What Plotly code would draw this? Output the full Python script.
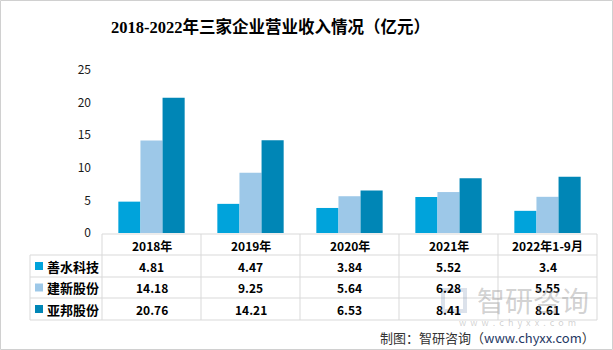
import plotly.graph_objects as go

categories = ["2018年", "2019年", "2020年", "2021年", "2022年1-9月"]
series_names = ["善水科技", "建新股份", "亚邦股份"]
shanshui = [4.81, 4.47, 3.84, 5.52, 3.4]
jianxin = [14.18, 9.25, 5.64, 6.28, 5.55]
yabang = [20.76, 14.21, 6.53, 8.41, 8.61]
y_ticks = [0, 5, 10, 15, 20, 25]
colors = ["#00A3DB", "#9DC8E8", "#0086B6"]

W, H = 613, 350
PX0, PX1, PY0, PY1 = 102, 597, 70, 233  # plot area in pixels


def xp(px):
    return (px - PX0) / (PX1 - PX0)


def yp(py):
    return (PY1 - py) / (PY1 - PY0)


series = [shanshui, jianxin, yabang]
fig = go.Figure()
for name, vals, c in zip(series_names, series, colors):
    fig.add_trace(go.Bar(x=categories, y=vals, name=name, marker=dict(color=c, line=dict(width=0))))

fnt = "Noto Sans CJK SC, sans-serif"
grid = "#D9D9D9"
shapes = []
# table horizontal lines
shapes.append(dict(type="line", xref="paper", yref="paper", x0=xp(102), x1=xp(597), y0=yp(234), y1=yp(234),
                   line=dict(color=grid, width=1)))
for py in [255, 277, 298, 320]:
    shapes.append(dict(type="line", xref="paper", yref="paper", x0=xp(30), x1=xp(597), y0=yp(py), y1=yp(py),
                       line=dict(color=grid, width=1)))
for px in [102, 201, 300, 399, 498, 597]:
    shapes.append(dict(type="line", xref="paper", yref="paper", x0=xp(px), x1=xp(px), y0=yp(234), y1=yp(320),
                       line=dict(color=grid, width=1)))
shapes.append(dict(type="line", xref="paper", yref="paper", x0=xp(30), x1=xp(30), y0=yp(255), y1=yp(320),
                   line=dict(color=grid, width=1)))
# outer border
shapes.append(dict(type="rect", xref="paper", yref="paper", x0=xp(0.5), x1=xp(612.5), y0=yp(0.5), y1=yp(349.5),
                   line=dict(color="#D0D0D0", width=1)))

annotations = []
# title
annotations.append(dict(text="<b>2018-2022年三家企业营业收入情况（亿元）</b>", xref="paper", yref="paper",
                        x=xp(270), y=yp(27), xanchor="center", yanchor="middle", showarrow=False,
                        font=dict(family="Liberation Serif, Noto Sans CJK SC", size=16.5, color="#000000")))
# header
for cat in categories:
    annotations.append(dict(text="<b>%s</b>" % cat, xref="x", yref="paper", x=cat, y=yp(245),
                            xanchor="center", yanchor="middle", showarrow=False,
                            font=dict(family=fnt, size=12, color="#000000")))
row_centers = [266, 287.5, 309]
for name, vals, c, ry in zip(series_names, series, colors, row_centers):
    shapes.append(dict(type="rect", xref="paper", yref="paper", x0=xp(35), x1=xp(43), y0=yp(ry - 4), y1=yp(ry + 4),
                       fillcolor=c, line=dict(width=0)))
    annotations.append(dict(text="<b>%s</b>" % name, xref="paper", yref="paper", x=xp(45), y=yp(ry),
                            xanchor="left", yanchor="middle", showarrow=False,
                            font=dict(family=fnt, size=13, color="#000000")))
    for cat, v in zip(categories, vals):
        annotations.append(dict(text="<b>%s</b>" % v, xref="x", yref="paper", x=cat, y=yp(ry),
                                xanchor="center", yanchor="middle", showarrow=False,
                                font=dict(family=fnt, size=12, color="#000000")))
# watermark
annotations.append(dict(text="智研咨询", xref="paper", yref="paper", x=xp(533), y=yp(300),
                        xanchor="center", yanchor="middle", showarrow=False,
                        font=dict(family=fnt, size=28, color="rgba(140,140,140,0.4)")))
annotations.append(dict(text="w  w  w  .  c  h  y  x  x  .  c  o  m", xref="paper", yref="paper", x=xp(517), y=yp(322),
                        xanchor="center", yanchor="middle", showarrow=False,
                        font=dict(family=fnt, size=9, color="rgba(140,140,140,0.4)")))
shapes.append(dict(type="rect", xref="paper", yref="paper", x0=xp(443), x1=xp(465), y0=yp(290), y1=yp(311),
                   line=dict(color="rgba(140,160,190,0.3)", width=4), fillcolor="rgba(0,0,0,0)"))
# source
annotations.append(dict(text="制图：智研咨询（<span style='color:#1F3864'>www.chyxx.com</span>）", xref="paper", yref="paper",
                        x=xp(597), y=yp(337), xanchor="right", yanchor="middle", showarrow=False,
                        font=dict(family=fnt, size=13, color="#333333")))

fig.update_layout(
    width=W, height=H,
    margin=dict(l=PX0, r=W - PX1, t=PY0, b=H - PY1),
    paper_bgcolor="white", plot_bgcolor="white",
    barmode="group", bargap=0.33, bargroupgap=0,
    showlegend=False,
    xaxis=dict(showticklabels=False, showline=False, showgrid=False, zeroline=False, ticks=""),
    yaxis=dict(range=[0, 25], tickvals=y_ticks, showgrid=False, zeroline=False, showline=False,
               tickfont=dict(family=fnt, size=12, color="#1a1a1a"), ticklabelstandoff=10),
    shapes=shapes, annotations=annotations,
)
fig.write_html("out.html")
